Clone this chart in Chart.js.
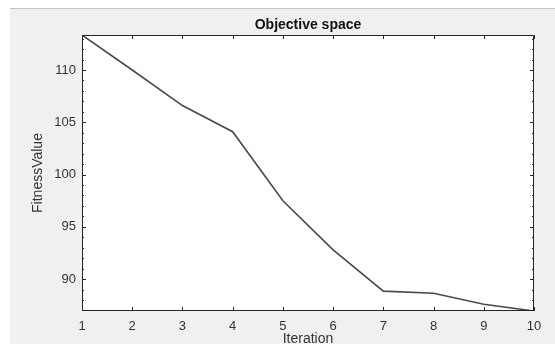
<!DOCTYPE html>
<html>
<head>
<meta charset="utf-8">
<script src="https://cdn.jsdelivr.net/npm/chart.js@4"></script>
<style>
  html, body { margin: 0; padding: 0; background: #fff; }
  #fig {
    position: absolute; left: 10px; top: 8px;
    width: 545px; height: 336px;
    background: #f0f0f0; border-top: 1px solid #c4c4c4;
  }
  canvas { display: block; }
</style>
</head>
<body>
<div id="fig"><canvas id="lineCanvas" width="545" height="335"></canvas></div>
<script>
const iterations = [1, 2, 3, 4, 5, 6, 7, 8, 9, 10];
const fitness = [113.35, 110.0, 106.6, 104.1, 97.5, 92.8, 88.85, 88.65, 87.6, 86.95];
const xTicks = [1, 2, 3, 4, 5, 6, 7, 8, 9, 10];
const yTicks = [90, 95, 100, 105, 110];

const axisColor = "#262626";
const font = "Liberation Sans, Arial, sans-serif";

// MATLAB style box with inward ticks (major + minor on y)
const boxTicks = {
  id: "boxTicks",
  beforeDraw(chart) {
    const { ctx, chartArea: a } = chart;
    ctx.save();
    ctx.fillStyle = "#fff";
    ctx.fillRect(a.left, a.top, a.right - a.left, a.bottom - a.top);
    ctx.restore();
  },
  afterDatasetsDraw(chart) {
    const { ctx, chartArea: a, scales } = chart;
    ctx.save();
    ctx.strokeStyle = axisColor;
    ctx.lineWidth = 1;
    ctx.beginPath();
    ctx.rect(a.left + 0.5, a.top + 0.5, a.right - a.left - 1, a.bottom - a.top - 1);
    xTicks.forEach(v => {
      const px = Math.round(scales.x.getPixelForValue(v)) + 0.5;
      ctx.moveTo(px, a.bottom); ctx.lineTo(px, a.bottom - 4);
      ctx.moveTo(px, a.top); ctx.lineTo(px, a.top + 4);
    });
    for (let v = Math.ceil(scales.y.min); v <= Math.floor(scales.y.max); v++) {
      const len = v % 5 === 0 ? 4 : 2;
      const py = Math.round(scales.y.getPixelForValue(v)) + 0.5;
      ctx.moveTo(a.left, py); ctx.lineTo(a.left + len, py);
      ctx.moveTo(a.right, py); ctx.lineTo(a.right - len, py);
    }
    ctx.stroke();
    ctx.restore();
  }
};

const lineChart = new Chart(document.getElementById("lineCanvas"), {
  type: "line",
  data: {
    datasets: [
      {
        data: iterations.map((x, i) => ({ x: x, y: fitness[i] })),
        borderColor: "#4a4a4a",
        borderWidth: 1.6,
        pointRadius: 0,
        tension: 0,
        fill: false,
      },
    ],
  },
  plugins: [boxTicks],
  options: {
    responsive: false,
    animation: false,
    layout: { padding: { left: 0, right: 21, top: 0, bottom: 0 } },
    scales: {
      x: {
        type: "linear",
        min: 1,
        max: 10,
        afterBuildTicks: (scale) => { scale.ticks = xTicks.map(v => ({ value: v })); },
        afterFit: (scale) => { scale.height = 33; },
        ticks: {
          color: "#333",
          font: { family: font, size: 13 },
          padding: 8,
          maxRotation: 0,
        },
        grid: { display: false, drawTicks: false },
        border: { display: false },
        title: {
          display: true,
          text: "Iteration",
          color: "#333",
          font: { family: font, size: 14, lineHeight: 1.0 },
          padding: { top: 0, bottom: -2 },
        },
      },
      y: {
        min: 86.95,
        max: 113.35,
        afterBuildTicks: (scale) => { scale.ticks = yTicks.map(v => ({ value: v })); },
        afterFit: (scale) => { scale.width = 72; },
        ticks: {
          color: "#333",
          font: { family: font, size: 13 },
          padding: 6,
        },
        grid: { display: false, drawTicks: false },
        border: { display: false },
        title: {
          display: true,
          text: "FitnessValue",
          color: "#333",
          font: { family: font, size: 14 },
          padding: { top: 20, bottom: 0 },
        },
      },
    },
    plugins: {
      legend: { display: false },
      tooltip: { enabled: false },
      title: {
        display: true,
        text: "Objective space",
        color: "#111",
        fullSize: false,
        font: { family: font, size: 14, weight: "bold" },
        padding: { top: 8, bottom: 1.2 },
      },
    },
  },
});
</script>
</body>
</html>
